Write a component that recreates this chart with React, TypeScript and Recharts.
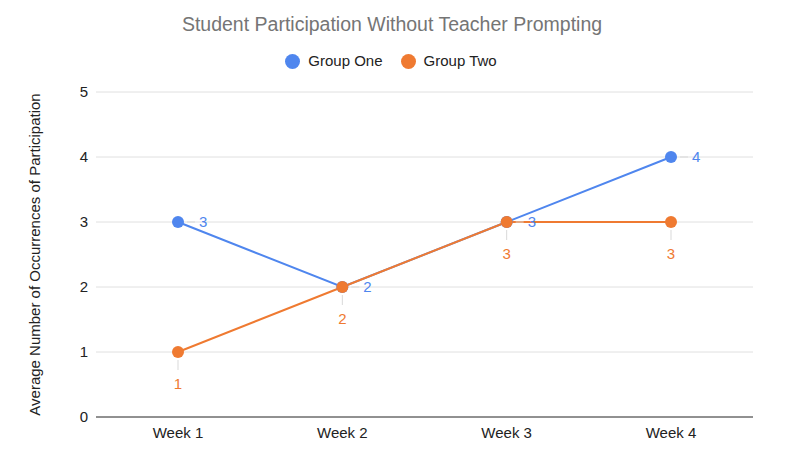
import React from 'react';
import {
  LineChart,
  Line,
  XAxis,
  YAxis,
  CartesianGrid,
  Legend,
  LabelList,
} from 'recharts';

const weeks = ['Week 1', 'Week 2', 'Week 3', 'Week 4'];
const groupOne = [3, 2, 3, 4];
const groupTwo = [1, 2, 3, 3];
const yTicks = [0, 1, 2, 3, 4, 5];

const data = weeks.map((w, i) => ({ week: w, one: groupOne[i], two: groupTwo[i] }));

const BLUE = '#4f86ee';
const ORANGE = '#ef7a31';
const FONT = '"Liberation Sans", Arial, sans-serif';

const RightLabel = (props: any) => {
  const { x, y, value } = props;
  return (
    <g>
      <line x1={x + 9} y1={y} x2={x + 17} y2={y} stroke="#d9d9d9" strokeWidth={1} />
      <text x={x + 21} y={y + 5} fill={BLUE} fontSize={15} fontFamily={FONT}>
        {value}
      </text>
    </g>
  );
};

const BelowLabel = (props: any) => {
  const { x, y, value } = props;
  return (
    <g>
      <line x1={x} y1={y + 8} x2={x} y2={y + 18} stroke="#d9d9d9" strokeWidth={1} />
      <text x={x} y={y + 37} fill={ORANGE} fontSize={15} fontFamily={FONT} textAnchor="middle">
        {value}
      </text>
    </g>
  );
};

export default function App() {
  return (
    <div style={{ position: 'absolute', left: 0, top: 0, width: 800, height: 471, background: '#fff', fontFamily: FONT }}>
      <div
        style={{
          position: 'absolute',
          top: 13,
          left: 0,
          width: 784,
          textAlign: 'center',
          fontSize: 19.5,
          color: '#757575',
        }}
      >
        Student Participation Without Teacher Prompting
      </div>
      <LineChart
        width={800}
        height={471}
        data={data}
        margin={{ top: 52, right: 47, bottom: 24, left: 20 }}
      >
        <CartesianGrid vertical={false} stroke="#e0e0e0" />
        <XAxis
          dataKey="week"
          padding={{ left: 82, right: 82 }}
          axisLine={{ stroke: '#333' }}
          tickLine={false}
          tickMargin={4}
          tick={{ fill: '#222', fontSize: 15, fontFamily: FONT }}
        />
        <YAxis
          domain={[0, 5]}
          ticks={yTicks}
          width={76}
          axisLine={false}
          tickLine={false}
          tick={{ fill: '#222', fontSize: 15, fontFamily: FONT }}
          label={{
            value: 'Average Number of Occurrences of Participation',
            angle: -90,
            position: 'insideLeft',
            offset: 15,
            style: { textAnchor: 'middle', fill: '#222', fontSize: 15, fontFamily: FONT },
          }}
        />
        <Legend
          verticalAlign="top"
          height={40}
          iconType="circle"
          iconSize={15}
          wrapperStyle={{ left: 0, width: 800 }}
          formatter={(v: string) => (
            <span style={{ color: '#222', fontSize: 15, marginLeft: 4, marginRight: 8 }}>{v}</span>
          )}
        />
        <Line
          dataKey="one"
          name="Group One"
          stroke={BLUE}
          strokeWidth={2}
          dot={{ r: 6, fill: BLUE, stroke: BLUE, strokeWidth: 0 }}
          isAnimationActive={false}
        >
          <LabelList dataKey="one" content={RightLabel} />
        </Line>
        <Line
          dataKey="two"
          name="Group Two"
          stroke={ORANGE}
          strokeWidth={2}
          dot={{ r: 6, fill: ORANGE, stroke: ORANGE, strokeWidth: 0 }}
          isAnimationActive={false}
        >
          <LabelList dataKey="two" content={BelowLabel} />
        </Line>
      </LineChart>
    </div>
  );
}
